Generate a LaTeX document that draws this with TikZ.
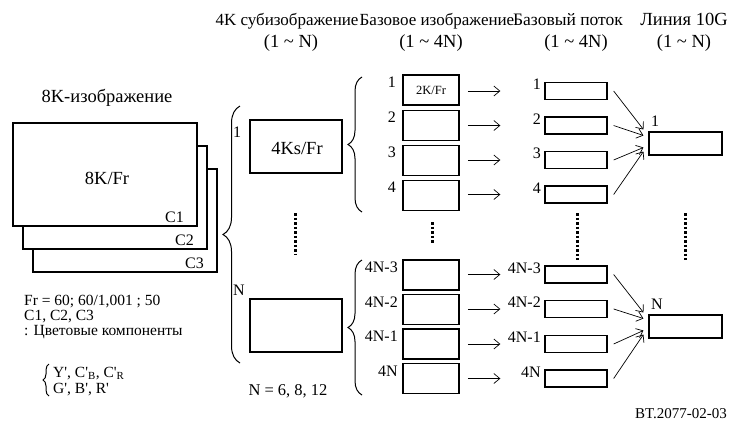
\documentclass[tikz,border=0pt]{standalone}
\usepackage{fontspec}
\setmainfont{Liberation Serif}
\usetikzlibrary{arrows.meta,decorations.pathreplacing}
\begin{document}
\begin{tikzpicture}[x=1pt,y=-1pt,
  txt/.style={inner sep=0pt,font=\fontsize{16}{18}\selectfont},
  big/.style={inner sep=0pt,font=\fontsize{18.5}{20}\selectfont},
  head/.style={inner sep=0pt,font=\fontsize{17}{19}\selectfont},
  note/.style={inner sep=0pt,font=\fontsize{15.5}{17}\selectfont},
  small/.style={inner sep=0pt,font=\fontsize{12.5}{14}\selectfont},
  frame/.style={draw,line width=1.1pt,fill=white,inner sep=0pt},
  bbox/.style={draw,line width=1.5pt,inner sep=0pt,minimum width=56pt,minimum height=30pt},
  sbox/.style={draw,line width=1.3pt,inner sep=0pt,minimum width=62pt,minimum height=17pt},
  gbox/.style={draw,line width=1.1pt,inner sep=0pt,minimum width=73pt,minimum height=23pt},
  arr/.style={-{Straight Barb[length=6pt,width=10pt]},line width=0.7pt},
  dots/.style={line width=3pt,dash pattern=on 2.5pt off 2pt},
  br/.style={decorate,decoration={brace,amplitude=#1},line width=1pt}]
\useasboundingbox (0,0) rectangle (729,437);

% headers
\node[head,anchor=base] (h1) at (287,25) {4K субизображение};
\node[head,anchor=base] (h2) at (437,25) {Базовое изображение};
\node[head,anchor=base,font=\fontsize{17.5}{19}\selectfont] (h3) at (568,25) {Базовый поток};
\node[big,anchor=base] (h4) at (684,25) {Линия 10G};
\node[big,anchor=base] (u1) at (291,47) {(1 \char`\~{} N)};
\node[big,anchor=base] (u2) at (431,47) {(1 \char`\~{} 4N)};
\node[big,anchor=base] (u3) at (576,47) {(1 \char`\~{} 4N)};
\node[big,anchor=base] (u4) at (684,47) {(1 \char`\~{} N)};

% 8K stack
\node[big,anchor=base] (t8k) at (107,102) {8K-изображение};
\node[frame,minimum width=184pt,minimum height=103pt] (r3) at (125,220.5) {};
\node[frame,minimum width=184pt,minimum height=103pt] (r2) at (115,197.5) {};
\node[frame,minimum width=184pt,minimum height=103pt] (r1) at (105,174.5) {};
\node[big] (l8k) at (107,178) {8K/Fr};
\node[txt,anchor=base east] (c1) at (184,222) {C1};
\node[txt,anchor=base east] (c2) at (194,245) {C2};
\node[txt,anchor=base east] (c3) at (204,268) {C3};

% notes
\node[note,anchor=base west] (n1) at (24,305.5) {Fr = 60; 60/1,001 ; 50};
\node[note,anchor=base west] (n2) at (24,320.5) {C1, C2, C3};
\node[note,anchor=base west] (n3) at (24,335) {: Цветовые компоненты};
\node[note,anchor=base west] (n4) at (53,377) {Y\textquotesingle, C\textquotesingle\textsubscript{B}, C\textquotesingle\textsubscript{R}};
\node[note,anchor=base west] (n5) at (53,393) {G\textquotesingle, B\textquotesingle, R\textquotesingle};
\draw[br=6pt] (49,396) -- (49,364);

% big brace and 4K boxes
\draw[br=17pt] (240,363) -- (240,106);
\node[txt,anchor=base west] (k1) at (233,137) {1};
\node[txt,anchor=base west] (kn) at (233,295) {N};
\node[frame,minimum width=92pt,minimum height=53pt] (q1) at (296,146.5) {};
\node[big] (q1t) at (297,148) {4Ks/Fr};
\node[frame,minimum width=92pt,minimum height=53pt] (qn) at (296,325.5) {};
\draw[dots] (295,213) -- (295,254);
\node[txt,font=\fontsize{16.5}{18}\selectfont,anchor=base] (nn) at (288,395) {N = 6, 8, 12};

% braces to base images
\draw[br=14pt] (362,212) -- (362,77);
\draw[br=14pt] (362,395) -- (362,260);

% base images upper
\foreach \i/\t/\l in {1/75/1,2/110.5/2,3/145.5/3,4/180.5/4}{
  \node[bbox] (b\i) at (431,\t+15) {};
  \node[txt,anchor=base east] (bl\i) at (396,\t+12) {\l};
}
\node[small] (b1t) at (431,90) {2K/Fr};
% base images lower
\foreach \i/\t/\l in {5/260/4N-3,6/294.5/4N-2,7/329/4N-1,8/363.5/4N}{
  \node[bbox] (b\i) at (431,\t+15) {};
  \node[txt,anchor=base east] (bl\i) at (398,\t+12.5) {\l};
}
\draw[dots] (432,222) -- (432,243);

% streams
\foreach \i/\t/\l in {1/82.5/1,2/117/2,3/151.5/3,4/186/4,5/266/4N-3,6/300.5/4N-2,7/335.5/4N-1,8/370/4N}{
  \node[sbox] (s\i) at (576,\t+8.5) {};
  \node[txt,anchor=base east] (sl\i) at (541,\t+7) {\l};
  \draw[arr] ([xshift=8]b\i.east |- s\i) -- ([xshift=-44]s\i.west);
}
\draw[dots] (577,213) -- (577,260);

% 10G lines
\node[gbox] (g1) at (685.5,143.5) {};
\node[gbox] (g2) at (685.5,326.5) {};
\node[txt,anchor=base west] (gl1) at (651,126) {1};
\node[txt,anchor=base west] (gl2) at (651,309) {N};
\draw[dots] (685,213) -- (685,260);

\foreach \g/\a/\b/\c/\d in {g1/1/2/3/4,g2/5/6/7/8}{
  \draw[arr] ([xshift=6]s\a.east) -- ([shift={(-5,-14)}]\g.west);
  \draw[arr] ([xshift=6]s\b.east) -- ([shift={(-5,-8)}]\g.west);
  \draw[arr] ([xshift=6]s\c.east) -- ([shift={(-5,4)}]\g.west);
  \draw[arr] ([xshift=6]s\d.east) -- ([shift={(-5,8)}]\g.west);
}

\node[inner sep=0pt,font=\fontsize{15}{17}\selectfont,anchor=base east] (bt) at (727,418) {BT.2077-02-03};
\end{tikzpicture}
\end{document}
